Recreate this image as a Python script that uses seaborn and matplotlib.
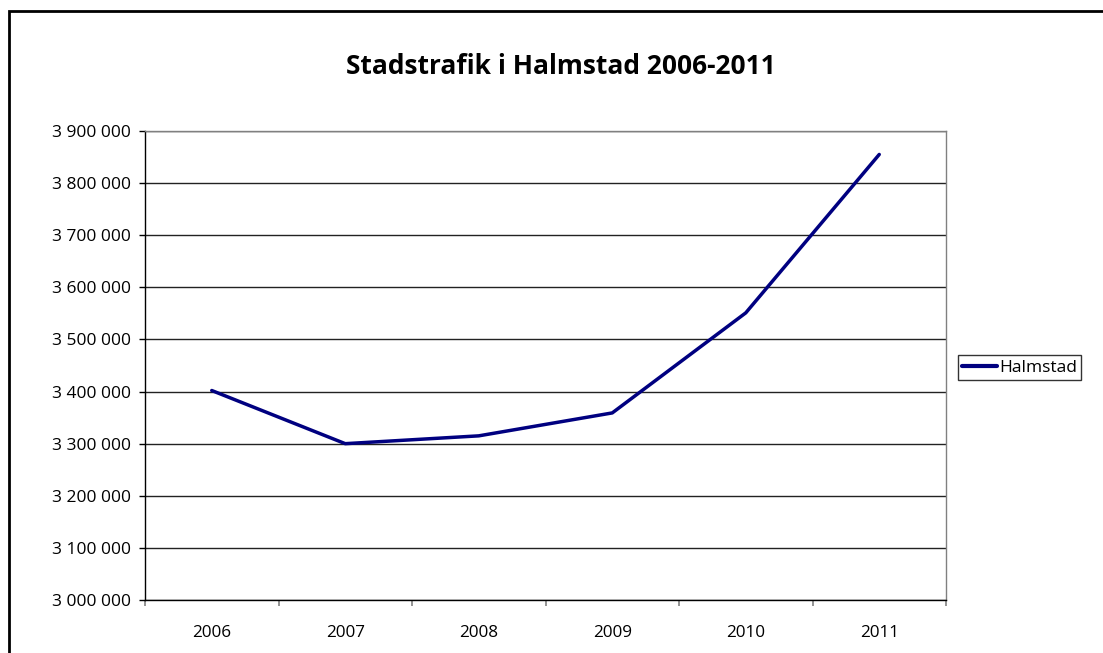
import matplotlib
matplotlib.use("Agg")
import matplotlib.pyplot as plt
import matplotlib.ticker as mticker
from matplotlib.patches import Rectangle
import seaborn as sns
import pandas as pd

years = ["2006", "2007", "2008", "2009", "2010", "2011"]
halmstad = [3402000, 3300000, 3315000, 3359000, 3551000, 3855000]
series_name = "Halmstad"
title = "Stadstrafik i Halmstad 2006-2011"

sns.set_style("white")
plt.rcParams['font.family'] = ['Open Sans', 'DejaVu Sans']
plt.rcParams['text.color'] = 'black'
plt.rcParams['xtick.color'] = 'black'
plt.rcParams['ytick.color'] = 'black'

W, H = 1103, 653
fig = plt.figure(figsize=(W / 100, H / 100), dpi=100)
ax = fig.add_axes([145 / W, 1 - 600 / H, (946 - 145) / W, (600 - 131) / H])

df = pd.DataFrame({"year": years, "value": halmstad, "series": series_name})
sns.lineplot(data=df, x="year", y="value", hue="series", palette=["#000080"],
             linewidth=2.5, ax=ax, sort=False, legend=True)

ax.set_xlim(-0.5, len(years) - 0.5)
ax.set_ylim(3000000, 3900000)
ax.yaxis.set_major_locator(mticker.MultipleLocator(100000))
ax.yaxis.set_major_formatter(mticker.FuncFormatter(lambda v, p: f"{int(v):,}".replace(",", " ")))

# x ticks between categories, labels in the centre
ax.set_xticks([i - 0.5 for i in range(len(years) + 1)])
ax.set_xticklabels([])
ax.set_xticks(range(len(years)), minor=True)
ax.set_xticklabels(years, minor=True)
ax.tick_params(axis="x", which="major", direction="out", length=4, width=1.2, color="#808080", bottom=True)
ax.tick_params(axis="x", which="minor", length=0, pad=18, labelsize=12.3, labelcolor="black")
ax.tick_params(axis="y", direction="out", length=4, width=1, color="black", left=True, pad=6,
               labelsize=12.5, labelcolor="black")

ax.set_xlabel("")
ax.set_ylabel("")
ax.grid(axis="y", color="#222222", linewidth=1)
ax.set_axisbelow(True)

for s in ["top", "right"]:
    ax.spines[s].set_color("#808080")
    ax.spines[s].set_linewidth(1)
for s in ["left", "bottom"]:
    ax.spines[s].set_color("black")
    ax.spines[s].set_linewidth(1)

leg = ax.legend(loc="center left", bbox_to_anchor=(1.015, 0.495), frameon=True, fancybox=False,
                fontsize=12.5, handlelength=2.0, handletextpad=0.1, borderpad=0.25,
                borderaxespad=0, title=None)
leg.get_frame().set_edgecolor("black")
leg.get_frame().set_linewidth(1)
for line in leg.get_lines():
    line.set_linewidth(3)

fig.text(561 / W, 1 - 66 / H, title, ha="center", va="center", fontsize=19,
         fontweight="bold", color="black")

# outer chart border
fig.add_artist(Rectangle((9 / W, -0.1), 1.2, 1 - 11 / H + 0.1, transform=fig.transFigure,
                         fill=False, edgecolor="black", linewidth=2))

fig.savefig("out.png", dpi=100)
